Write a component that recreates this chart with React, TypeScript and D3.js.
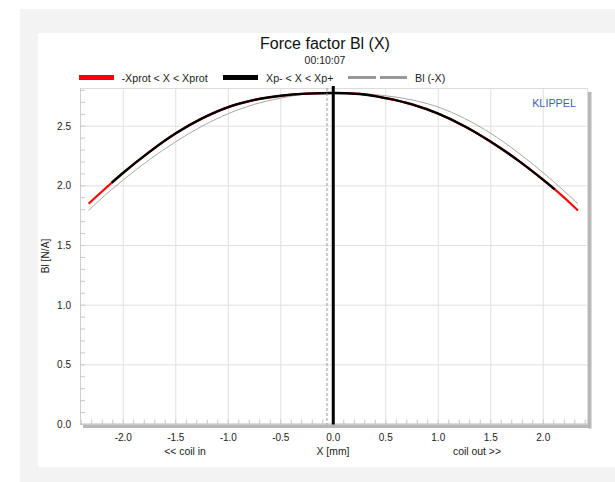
import React from "react";
import * as d3 from "d3";

const xPos = [-2.33, -2.25, -2.11, -2.0, -1.75, -1.5, -1.25, -1.0, -0.75, -0.5, -0.25, 0, 0.25, 0.5, 0.75, 1.0, 1.25, 1.5, 1.75, 2.0, 2.11, 2.25, 2.33];
const blValues = [1.85, 1.915, 2.026, 2.11, 2.285, 2.44, 2.565, 2.66, 2.72, 2.755, 2.773, 2.778, 2.77, 2.735, 2.683, 2.605, 2.5, 2.37, 2.22, 2.05, 1.97, 1.86, 1.794];
const blMirror = [1.794, 1.86, 1.97, 2.05, 2.22, 2.37, 2.5, 2.605, 2.683, 2.735, 2.77, 2.778, 2.773, 2.755, 2.72, 2.66, 2.565, 2.44, 2.285, 2.11, 2.026, 1.915, 1.85];
const xpMinus = -2.11;
const xpPlus = 2.11;
const restPosition = -0.06;

const xTicks = [-2.0, -1.5, -1.0, -0.5, 0.0, 0.5, 1.0, 1.5, 2.0];
const yTicks = [0.0, 0.5, 1.0, 1.5, 2.0, 2.5];
const xMinor = d3.range(-24, 25).map((i) => i / 10);
const yMinor = d3.range(0, 29).map((i) => i / 10);

const title = "Force factor Bl (X)";
const subtitle = "00:10:07";
const legendLabels = ["-Xprot < X < Xprot", "Xp- < X < Xp+", "Bl (-X)"];

const FONT = "'Liberation Sans', Arial, sans-serif";

export default function App() {
  const L = 80, R = 588, T = 88, B = 424.5;
  const x = d3.scaleLinear().domain([-2.412, 2.426]).range([L, R]);
  const y = d3.scaleLinear().domain([0, 2.82]).range([B, T]);

  const pts = xPos.map((v, i) => ({ x: v, y: blValues[i] }));
  const mir = xPos.map((v, i) => ({ x: v, y: blMirror[i] }));
  const blk = pts.filter((p) => p.x >= xpMinus - 1e-9 && p.x <= xpPlus + 1e-9);

  const line = d3
    .line<{ x: number; y: number }>()
    .x((d) => x(d.x))
    .y((d) => y(d.y))
    .curve(d3.curveMonotoneX);

  return (
    <svg width={615} height={482} style={{ position: "absolute", left: 0, top: 0 }} fontFamily={FONT}>
      <rect x={0} y={0} width={615} height={482} fill="#ffffff" />
      <rect x={20} y={9} width={595} height={473} fill="#f3f3f3" />
      <rect x={38} y={33} width={577} height={434} fill="#ffffff" />

      {/* title */}
      <text x={325} y={49} textAnchor="middle" fontSize={16} fill="#111">{title}</text>
      <text x={325} y={63.5} textAnchor="middle" fontSize={10.5} fill="#222">{subtitle}</text>

      {/* legend */}
      <line x1={79} x2={114} y1={77.5} y2={77.5} stroke="#ff0000" strokeWidth={5} />
      <text x={121.5} y={81.5} fontSize={10.7} fill="#222">{legendLabels[0]}</text>
      <line x1={223} x2={258} y1={77.5} y2={77.5} stroke="#000" strokeWidth={5} />
      <text x={266} y={81.5} fontSize={10.7} fill="#222">{legendLabels[1]}</text>
      <line x1={348} x2={376} y1={77.5} y2={77.5} stroke="#999" strokeWidth={3} />
      <line x1={380} x2={407} y1={77.5} y2={77.5} stroke="#999" strokeWidth={3} />
      <text x={415} y={81.5} fontSize={10.7} fill="#222">{legendLabels[2]}</text>

      {/* shadow */}
      <rect x={R} y={T + 4} width={3.5} height={B - T} fill="#b8b8b8" />
      <rect x={L + 3} y={B} width={R - L} height={3.5} fill="#b8b8b8" />

      {/* grid */}
      {xTicks.map((t) => (
        <line key={"gx" + t} x1={x(t)} x2={x(t)} y1={T} y2={B} stroke="#e0e0e0" strokeWidth={1} />
      ))}
      {yTicks.filter((t) => t > 0).map((t) => (
        <line key={"gy" + t} x1={L} x2={R} y1={y(t)} y2={y(t)} stroke="#e0e0e0" strokeWidth={1} />
      ))}
      <line x1={L} x2={R} y1={T + 0.5} y2={T + 0.5} stroke="#dcdcdc" />
      <line x1={R - 0.5} x2={R - 0.5} y1={T} y2={B} stroke="#dcdcdc" />
      <line x1={L + 0.5} x2={L + 0.5} y1={T} y2={B} stroke="#cfcfcf" />
      <line x1={L} x2={R} y1={B - 0.5} y2={B - 0.5} stroke="#bbbbbb" />

      {/* minor ticks */}
      {yMinor.map((t) => (
        <line key={"my" + t} x1={L} x2={L + 5} y1={y(t)} y2={y(t)} stroke="#c8c8c8" />
      ))}
      {xMinor.map((t) => (
        <line key={"mx" + t} x1={x(t)} x2={x(t)} y1={B} y2={B - 5} stroke="#c8c8c8" />
      ))}

      {/* curves */}
      <path d={line(mir) || ""} fill="none" stroke="#a8a8a8" strokeWidth={1} />
      <path d={line(pts) || ""} fill="none" stroke="#ff0000" strokeWidth={2.2} />
      <path d={line(blk) || ""} fill="none" stroke="#000" strokeWidth={2.4} />

      {/* vertical markers */}
      <line x1={x(restPosition)} x2={x(restPosition)} y1={T} y2={B} stroke="#999" strokeWidth={1} strokeDasharray="3,2" />
      <line x1={x(0)} x2={x(0)} y1={T - 2} y2={B} stroke="#000" strokeWidth={3} />

      {/* tick labels */}
      {yTicks.map((t) => (
        <text key={"ly" + t} x={71} y={y(t) + 3.5} textAnchor="end" fontSize={10} fill="#222">{t.toFixed(1)}</text>
      ))}
      {xTicks.map((t) => (
        <text key={"lx" + t} x={x(t)} y={441} textAnchor="middle" fontSize={10} fill="#222">{t.toFixed(1)}</text>
      ))}
      <text x={185} y={455} textAnchor="middle" fontSize={10.4} fill="#222">{"<< coil in"}</text>
      <text x={333} y={455} textAnchor="middle" fontSize={10.4} fill="#222">X [mm]</text>
      <text x={477} y={455} textAnchor="middle" fontSize={10.4} fill="#222">{"coil out >>"}</text>
      <text transform={`translate(48.5, 256) rotate(-90)`} textAnchor="middle" fontSize={10.2} fill="#222">Bl [N/A]</text>

      <text x={576} y={107} textAnchor="end" fontSize={10.8} fill="#3a5fad">KLIPPEL</text>
    </svg>
  );
}
